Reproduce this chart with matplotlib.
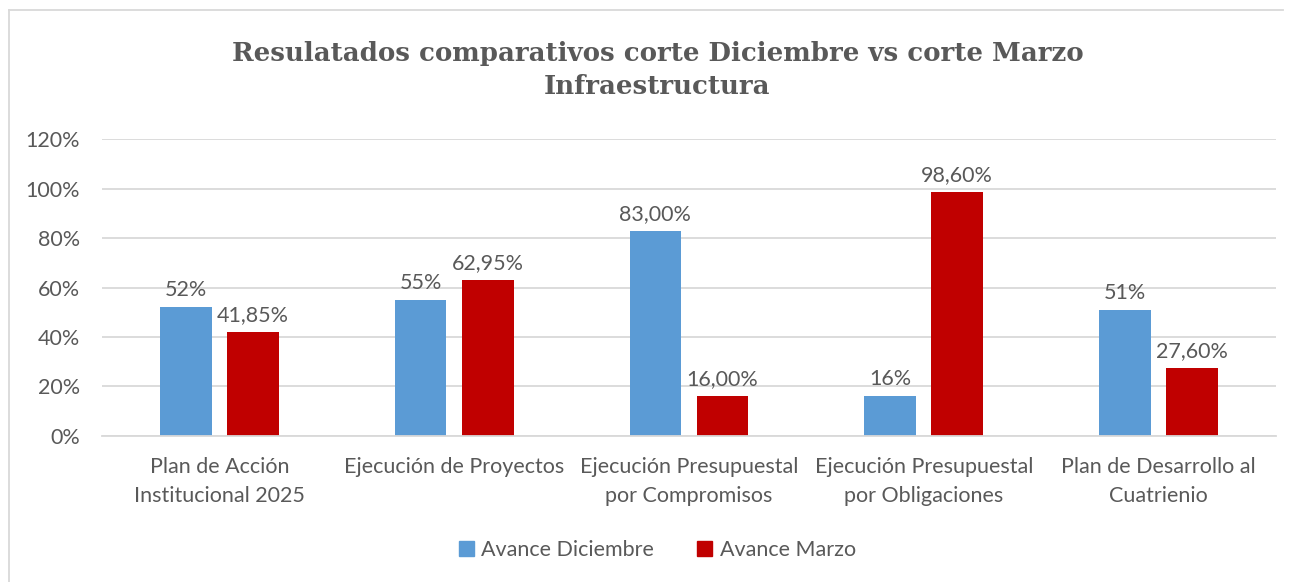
import matplotlib.pyplot as plt
import numpy as np
from matplotlib.lines import Line2D
from matplotlib.patches import Patch

# ===== DATA =====
categories = [
    "Plan de Acción\nInstitucional 2025",
    "Ejecución de Proyectos",
    "Ejecución Presupuestal\npor Compromisos",
    "Ejecución Presupuestal\npor Obligaciones",
    "Plan de Desarrollo al\nCuatrienio",
]
avance_diciembre = [52, 55, 83, 16, 51]
avance_marzo = [41.85, 62.95, 16, 98.6, 27.6]
labels_diciembre = ["52%", "55%", "83,00%", "16%", "51%"]
labels_marzo = ["41,85%", "62,95%", "16,00%", "98,60%", "27,60%"]
y_ticks = [0, 20, 40, 60, 80, 100, 120]

# ===== STYLE =====
BLUE = "#5B9BD5"
RED = "#C00000"
TEXT = "#595959"
GRID = "#D9D9D9"
FS = 15.5
plt.rcParams["font.family"] = ["Lato", "DejaVu Sans"]

fig = plt.figure(figsize=(12.94, 5.82), dpi=100)
ax = fig.add_axes([0.0788, 0.2509, 0.9072, 0.5101])

x = np.arange(len(categories))
w = 0.22
off = 0.143
b1 = ax.bar(x - off, avance_diciembre, w, color=BLUE, zorder=2)
b2 = ax.bar(x + off, avance_marzo, w, color=RED, zorder=2)

for bars, labels in [(b1, labels_diciembre), (b2, labels_marzo)]:
    for bar, lab in zip(bars, labels):
        ax.annotate(lab, (bar.get_x() + bar.get_width() / 2, bar.get_height()),
                    xytext=(0, 5), textcoords="offset points",
                    ha="center", va="bottom", fontsize=FS, color=TEXT)

ax.set_xlim(-0.5, len(categories) - 0.5)
ax.set_ylim(0, 120)
ax.set_yticks(y_ticks)
ax.set_yticklabels([f"{t}%" for t in y_ticks])
ax.set_xticks(x)
ax.set_xticklabels(categories, linespacing=1.6)
ax.tick_params(axis="both", length=0, labelsize=FS, colors=TEXT)
ax.tick_params(axis="y", pad=16)
ax.tick_params(axis="x", pad=15)
ax.grid(axis="y", color=GRID, lw=1.3, zorder=0)
for s in ["top", "right", "left"]:
    ax.spines[s].set_visible(False)
ax.spines["bottom"].set_color(GRID)
ax.spines["bottom"].set_linewidth(1.3)

fig.text(0.508, 0.879, "Resulatados comparativos corte Diciembre vs corte Marzo\nInfraestructura",
         ha="center", va="center", fontsize=18.7, fontweight="bold",
         family=["DejaVu Serif"], color=TEXT, linespacing=1.4)

handles = [Patch(color=BLUE, label="Avance Diciembre"),
           Patch(color=RED, label="Avance Marzo")]
fig.legend(handles=handles, loc="center", bbox_to_anchor=(0.508, 0.055), ncol=2,
           frameon=False, fontsize=FS, labelcolor=TEXT, handlelength=0.7,
           handleheight=0.7, handletextpad=0.35, columnspacing=2.0)

# chart border (top and left edges visible in the reference)
fig.add_artist(Line2D([9 / 1294, 1283 / 1294], [1 - 10 / 582] * 2,
                      transform=fig.transFigure, color=GRID, lw=1.3))
fig.add_artist(Line2D([9 / 1294] * 2, [0, 1 - 10 / 582],
                      transform=fig.transFigure, color=GRID, lw=1.3))

fig.savefig("out.png", dpi=100)
